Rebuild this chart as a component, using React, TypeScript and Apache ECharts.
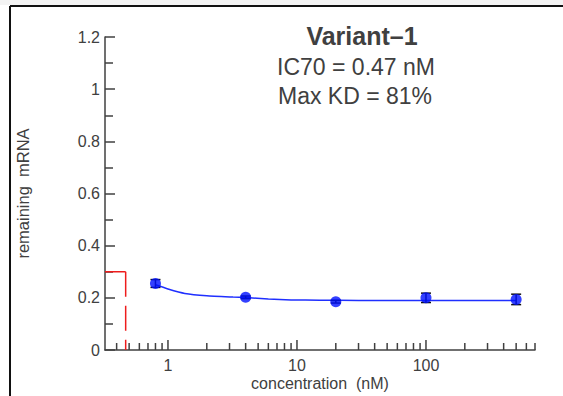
import React, { useEffect, useRef } from "react";
import * as echarts from "echarts";

// Measured data (concentration in nM)
const concentrations = [0.8, 4, 20, 100, 500];
const remaining = [0.255, 0.202, 0.185, 0.2, 0.194];
const errors = [0.015, 0.005, 0.005, 0.018, 0.02];

// Fitted curve
const fitConc = [0.8, 1, 1.35, 2, 3.2, 4, 6, 9, 15, 30, 100, 500];
const fitVals = [0.25, 0.234, 0.217, 0.208, 0.203, 0.201, 0.196, 0.192, 0.191, 0.19, 0.19, 0.19];

// IC70 marker
const ic70 = 0.47;
const ic70Level = 0.3;

// Axis settings
const xMin = 0.325;
const xMax = 700;
const xTickValues = [0.4, 0.5, 0.6, 0.7, 0.8, 0.9, 1, 2, 3, 4, 5, 6, 7, 8, 9, 10, 20, 30, 40, 50, 60, 70, 80, 90, 100, 200, 300, 400, 500, 600, 700];
const xMajorTicks = [1, 10, 100];
const yTickValues = [0, 0.2, 0.4, 0.6, 0.8, 1, 1.2];

const titleText = "Variant–1";
const ic70Text = "IC70 = 0.47 nM";
const maxKdText = "Max KD = 81%";

const FONT = "'Liberation Sans', Arial, sans-serif";
const TEXT = "#404040";

export default function App() {
  const ref = useRef<HTMLDivElement>(null);
  useEffect(() => {
    if (!ref.current) return;
    const chart = echarts.init(ref.current, null, { renderer: "svg" });
    const option: any = {
      animation: false,
      backgroundColor: "#ffffff",
      grid: { left: 105, right: 28, top: 37, bottom: 44 },
      xAxis: {
        type: "log",
        logBase: 10,
        min: xMin,
        max: xMax,
        name: "concentration  (nM)",
        nameLocation: "middle",
        nameGap: 25,
        nameTextStyle: { color: TEXT, fontSize: 16, fontFamily: FONT },
        axisLine: { show: true, lineStyle: { color: TEXT, width: 1.5 } },
        axisTick: { show: false },
        axisLabel: { show: false },
        splitLine: { show: false },
      },
      yAxis: {
        type: "value",
        min: yTickValues[0],
        max: yTickValues[yTickValues.length - 1],
        interval: 0.2,
        name: "remaining  mRNA",
        nameLocation: "middle",
        nameGap: 74,
        nameTextStyle: { color: TEXT, fontSize: 16.5, fontFamily: FONT },
        axisLine: { show: true, lineStyle: { color: TEXT, width: 1.5 } },
        axisTick: { show: true, inside: true, length: 10, lineStyle: { color: TEXT, width: 1.5 } },
        minorTick: { show: true, splitNumber: 2, length: 8, lineStyle: { color: TEXT, width: 1.5 } },
        axisLabel: { color: TEXT, fontSize: 16, fontFamily: FONT, margin: 5 },
        splitLine: { show: false },
        minorSplitLine: { show: false },
      },
      graphic: [
        { type: "rect", shape: { x: 0, y: 0, width: 563, height: 5 }, style: { fill: "#f3f3f3" } },
        { type: "line", shape: { x1: 10, y1: 6, x2: 563, y2: 6 }, style: { stroke: "#111", lineWidth: 2 } },
        { type: "line", shape: { x1: 10, y1: 6, x2: 10, y2: 396 }, style: { stroke: "#111", lineWidth: 2 } },
        {
          type: "text", x: 362, y: 36,
          style: { text: titleText, font: `bold 25px ${FONT}`, fill: TEXT, align: "center", verticalAlign: "middle" },
        },
        {
          type: "text", x: 356, y: 67,
          style: { text: ic70Text, font: `23px ${FONT}`, fill: TEXT, align: "center", verticalAlign: "middle" },
        },
        {
          type: "text", x: 355, y: 96,
          style: { text: maxKdText, font: `23px ${FONT}`, fill: TEXT, align: "center", verticalAlign: "middle" },
        },
      ],
      series: [
        {
          type: "custom",
          name: "xticks",
          silent: true,
          clip: false,
          encode: { x: 0, y: 1 },
          data: xTickValues.map((v) => [v, 0, xMajorTicks.includes(v) ? 1 : 0]),
          renderItem: (params: any, api: any) => {
            const v = api.value(0);
            const major = api.value(2) === 1;
            const p = api.coord([v, 0]);
            const len = major ? 10 : 7;
            const children: any[] = [
              {
                type: "line",
                shape: { x1: p[0], y1: p[1], x2: p[0], y2: p[1] - len },
                style: { stroke: TEXT, lineWidth: 1.5 },
              },
            ];
            if (major) {
              children.push({
                type: "text",
                x: p[0],
                y: p[1] + 15,
                style: { text: String(v), font: `16px ${FONT}`, fill: TEXT, align: "center", verticalAlign: "middle" },
              });
            }
            return { type: "group", children };
          },
          z: 1,
        },
        {
          type: "line",
          name: "ic70h",
          data: [[xMin, ic70Level], [ic70, ic70Level]],
          showSymbol: false,
          lineStyle: { color: "#ee1c1c", width: 1.5 },
          z: 0,
        },
        {
          type: "line",
          name: "ic70v",
          data: [[ic70, ic70Level], [ic70, 0]],
          showSymbol: false,
          lineStyle: { color: "#ee1c1c", width: 1.5, type: [25, 9] },
          z: 0,
        },
        {
          type: "line",
          name: "fit",
          data: fitConc.map((c, i) => [c, fitVals[i]]),
          showSymbol: false,
          smooth: 0.15,
          lineStyle: { color: "#1f2fff", width: 1.5 },
          z: 2,
        },
        {
          type: "custom",
          name: "errors",
          silent: true,
          encode: { x: 0, y: [1, 2] },
          data: concentrations.map((c, i) => [c, remaining[i] - errors[i], remaining[i] + errors[i]]),
          renderItem: (params: any, api: any) => {
            const lo = api.coord([api.value(0), api.value(1)]);
            const hi = api.coord([api.value(0), api.value(2)]);
            const hw = 5;
            const st = { stroke: "#111", lineWidth: 1.5 };
            return {
              type: "group",
              children: [
                { type: "line", shape: { x1: lo[0], y1: lo[1], x2: hi[0], y2: hi[1] }, style: st },
                { type: "line", shape: { x1: lo[0] - hw, y1: lo[1], x2: lo[0] + hw, y2: lo[1] }, style: st },
                { type: "line", shape: { x1: hi[0] - hw, y1: hi[1], x2: hi[0] + hw, y2: hi[1] }, style: st },
              ],
            };
          },
          z: 3,
        },
        {
          type: "scatter",
          name: "data",
          data: concentrations.map((c, i) => [c, remaining[i]]),
          symbol: "circle",
          symbolSize: 11,
          itemStyle: { color: "#0010ff" },
          z: 4,
        },
      ],
    };
    chart.setOption(option);
    return () => chart.dispose();
  }, []);
  return (
    <div
      ref={ref}
      style={{ position: "fixed", left: 0, top: 0, width: 563, height: 396 }}
    />
  );
}
